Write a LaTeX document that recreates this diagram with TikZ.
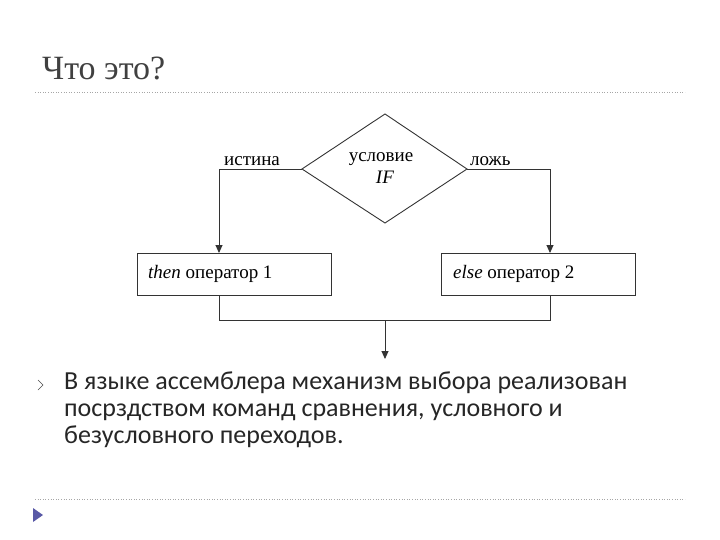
\documentclass[tikz,border=0pt]{standalone}
\usepackage{fontspec}
\setmainfont{Liberation Serif}
\newfontfamily\bodyf{Carlito}
\usetikzlibrary{arrows.meta,shapes.geometric}
\begin{document}
\begin{tikzpicture}[x=1pt,y=-1pt,
  ln/.style={line width=0.9pt,black!80},
  arr/.style={ln,-{Triangle[length=8pt,width=7pt]}},
  box/.style={draw,ln,minimum width=194pt,minimum height=42pt,inner sep=0pt},
  dtxt/.style={font=\fontsize{19}{20}\selectfont,inner sep=0pt},
  sep/.style={dotted,line width=0.6pt,gray!70}]
\useasboundingbox (0,0) rectangle (720,540);
\node[anchor=base west,text=black!75,font=\fontsize{34}{34}\selectfont,inner sep=0pt] (title) at (42,80) {Что это?};
\coordinate (s1a) at (35,92); \coordinate (s1b) at (685,92);
\draw[sep] (s1a) -- (s1b);
\coordinate (s2a) at (35,499); \coordinate (s2b) at (685,499);
\draw[sep] (s2a) -- (s2b);
% diamond
\coordinate (dt) at (385,114); \coordinate (dl) at (302,169);
\coordinate (dr) at (467,169); \coordinate (db) at (385,223);
\draw[ln] (dt) -- (dr) -- (db) -- (dl) -- cycle;
\node[dtxt,anchor=base] (cond) at (381,162) {условие};
\node[dtxt,anchor=base] (iff) at (385,184) {\textit{IF}};
\node[box] (b1) at (234,274) {};
\node[dtxt,anchor=base west] (t1) at (148,278) {\textit{then} оператор 1};
\node[box] (b2) at (538.5,274) {};
\node[dtxt,anchor=base west] (t2) at (453,278) {\textit{else} оператор 2};
\coordinate (lc) at (219,169); \coordinate (rc) at (550,169);
\draw[arr] (dl) -- (lc) -- (219,253);
\draw[arr] (dr) -- (rc) -- (550,253);
\node[dtxt,anchor=base west] (ist) at (224,166) {истина};
\node[dtxt,anchor=base west] (lozh) at (470,166) {ложь};
\coordinate (j1) at (219,320); \coordinate (j2) at (550,320); \coordinate (jm) at (385,320);
\coordinate (out) at (385,359);
\draw[ln] (219,295) -- (j1) -- (j2) -- (550,295);
\draw[arr] (jm) -- (out);
% bullet
\draw[line width=0.6pt,black!70] (38,380) -- (43,385) -- (38,390);
\node[anchor=north west,align=left,font=\bodyf\fontsize{26}{27}\selectfont,text=black!85,inner sep=0pt] (txt) at (64,372)
 {В языке ассемблера механизм выбора реализован\\посрздством команд сравнения, условного и\\безусловного переходов.};
\fill[blue!30!gray] (33,508) -- (43,515) -- (33,522) -- cycle;
\end{tikzpicture}
\end{document}
